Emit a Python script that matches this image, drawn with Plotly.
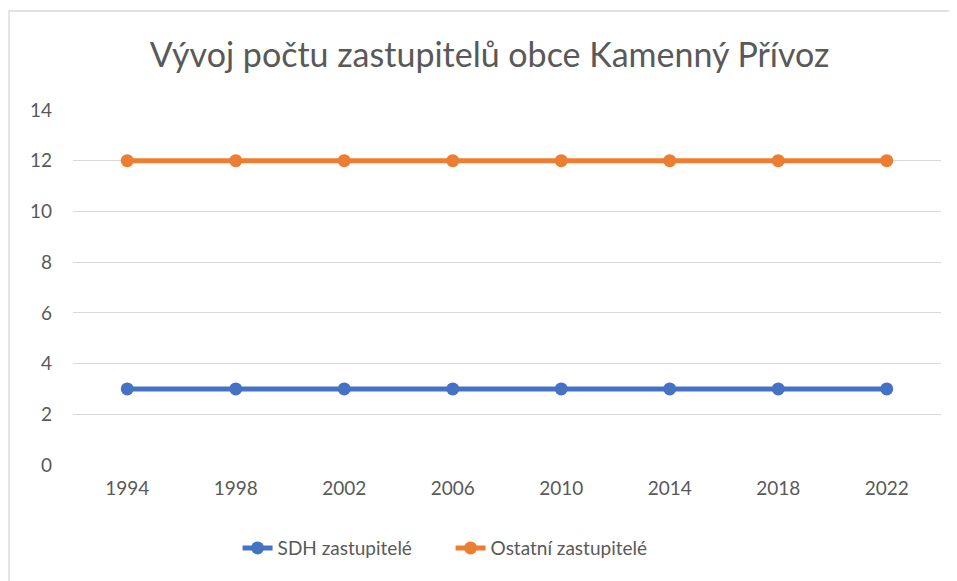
import plotly.graph_objects as go

# data
years = ['1994', '1998', '2002', '2006', '2010', '2014', '2018', '2022']
sdh_zastupitele = [3, 3, 3, 3, 3, 3, 3, 3]
ostatni_zastupitele = [12, 12, 12, 12, 12, 12, 12, 12]

font_family = 'Lato, Carlito, Calibri, sans-serif'
text_color = '#595959'

# page body keeps its default 8px margin, so the figure is 8px smaller
W, H = 949, 573

fig = go.Figure()
fig.add_trace(go.Scatter(
    x=years, y=sdh_zastupitele, name='SDH zastupitelé',
    mode='lines+markers',
    line=dict(color='#4472C4', width=5),
    marker=dict(size=13, color='#4472C4'),
))
fig.add_trace(go.Scatter(
    x=years, y=ostatni_zastupitele, name='Ostatní zastupitelé',
    mode='lines+markers',
    line=dict(color='#ED7D31', width=5),
    marker=dict(size=13, color='#ED7D31'),
))

fig.update_layout(
    width=W, height=H,
    paper_bgcolor='white', plot_bgcolor='white',
    margin=dict(l=65, r=16, t=102, b=116),
    font=dict(family=font_family, color=text_color, size=19),
    title=dict(
        text='Vývoj počtu zastupitelů obce Kamenný Přívoz',
        font=dict(size=34, color=text_color, family=font_family),
        x=0.48, xref='paper', xanchor='center',
        y=1 - 47 / H, yanchor='middle',
    ),
    xaxis=dict(
        type='category', range=[-0.5, 7.5],
        showgrid=False, zeroline=False, showline=False,
        ticks='', ticklabelstandoff=10,
        tickfont=dict(size=19, color=text_color),
    ),
    yaxis=dict(
        range=[0, 14], dtick=2, tick0=0,
        showgrid=True, gridcolor='#D9D9D9', gridwidth=1.3,
        zeroline=False, showline=False, ticks='',
        ticklabelstandoff=20,
        tickfont=dict(size=19, color=text_color),
    ),
    legend=dict(
        orientation='h', x=0.435, xanchor='center',
        y=-0.234, yanchor='middle',
        entrywidth=168, entrywidthmode='pixels',
        font=dict(size=19, color=text_color),
    ),
    showlegend=True,
)

# chart frame like the spreadsheet chart border
fig.add_shape(
    type='rect', xref='paper', yref='paper',
    x0=-64 / 868, x1=1.1, y0=-0.6, y1=(457 - 3) / 355,
    line=dict(color='#D9D9D9', width=1.3), fillcolor='rgba(0,0,0,0)',
    layer='below',
)

fig.write_html("out.html")
